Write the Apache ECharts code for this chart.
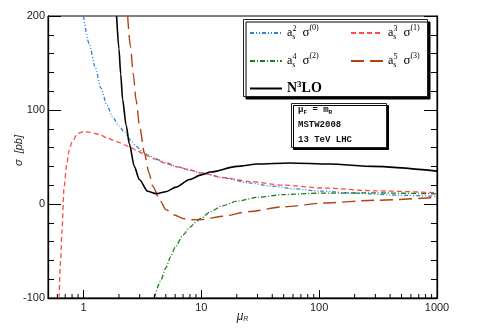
<!DOCTYPE html>
<html>
<head>
<meta charset="utf-8">
<script src="https://cdn.jsdelivr.net/npm/echarts@6/dist/echarts.min.js"></script>
<style>
  html, body { margin: 0; padding: 0; background: #fff; }
  #chart { width: 491px; height: 331px; }
</style>
</head>
<body>
<div id="chart"></div>
<script>
// ---- data ----
const xTickLabels = [1, 10, 100, 1000];
const xMinorTicks = [0.6, 0.7, 0.8, 0.9, 2, 3, 4, 5, 6, 7, 8, 9, 20, 30, 40, 50, 60, 70, 80, 90,
                     200, 300, 400, 500, 600, 700, 800, 900];
const yTickValues = [-100, 0, 100, 200];

// a_s^2 sigma^(0)
const muLO    = [1.0, 1.12, 1.26, 1.41, 1.58, 1.78, 2.0, 2.24, 2.51, 2.82, 3.16, 3.55, 3.98, 4.47, 5.01, 6.31, 7.94, 10, 15.8, 25.1, 39.8, 63, 100, 200, 500, 1000];
const sigmaLO = [200, 170, 145, 123, 105, 92, 83, 76, 68, 61, 56, 52, 49, 46.5, 44, 39.5, 36, 33, 27.5, 22.5, 19, 16, 13.8, 11.5, 9.3, 8.1];

// a_s^3 sigma^(1)
const muNLO    = [0.62, 0.64, 0.655, 0.685, 0.72, 0.755, 0.8, 0.89, 1.0, 1.12, 1.26, 1.41, 1.58, 1.78, 2.0, 2.24, 2.51, 2.82, 3.16, 3.55, 3.98, 5.01, 6.31, 7.94, 10, 15.8, 25.1, 50, 108, 300, 1000];
const sigmaNLO = [-100, -60, -31, 18, 42, 57, 66, 75, 77, 76.5, 75, 73, 70.5, 68, 65.5, 63, 60, 57, 54, 51, 48, 43, 39.5, 36.5, 33, 28, 24, 20, 17, 14, 12];

// a_s^4 sigma^(2)
const muNNLO    = [4.0, 4.5, 5.0, 5.5, 6.0, 7.0, 8.0, 9.0, 10, 12, 15, 20, 30, 50, 100, 300, 1000];
const sigmaNNLO = [-100, -82, -68, -56, -46, -33, -25, -19, -15, -8, -2, 3, 7, 10, 11.5, 11.8, 10.8];

// a_s^5 sigma^(3)
const muN3c    = [2.37, 2.5, 2.65, 2.79, 3.0, 3.29, 3.6, 3.87, 4.5, 5.0, 6.0, 7.0, 8.0, 10.3, 15, 25.7, 50, 108, 300, 1000];
const sigmaN3c = [200, 168, 138, 111, 82, 54, 33, 19, 3, -6, -12, -15.5, -16.7, -16.5, -13, -8, -3, 1, 4, 7];

// N3LO
const muN3LO    = [1.91, 2.0, 2.07, 2.15, 2.3, 2.45, 2.7, 2.98, 3.5, 4.13, 5.0, 6.1, 7.94, 10, 12, 20, 30, 56, 123, 289, 1000];
const sigmaN3LO = [200, 165, 138, 111, 84, 64, 40, 26, 13.5, 11, 13, 18, 26, 31, 34, 40, 42.5, 43.6, 42.5, 40, 35];

function pairs(xs, ys) { return xs.map((x, i) => [x, ys[i]]); }

const chart = echarts.init(document.getElementById('chart'), null, { renderer: 'canvas' });

const TICK = '#000';

const supStyle = { fontFamily: 'Liberation Serif', fontSize: 8, lineHeight: 8, padding: [0, 0, 9, 0], color: '#000' };
const subStyle = { fontFamily: 'Liberation Serif', fontSize: 8, lineHeight: 8, padding: [7, 0, 0, 0], color: '#000', width: 0.1 };
const legendRich = {
  a: { fontFamily: 'Liberation Serif', fontSize: 12, color: '#000' },
  g: { fontFamily: 'Liberation Serif', fontSize: 13, color: '#000', padding: [0, 0, 0, 6] },
  sb: subStyle,
  sp: supStyle,
  sp2: { fontFamily: 'Liberation Serif', fontSize: 8, lineHeight: 8, padding: [0, 0, 10, 0], color: '#000' },
  b: { fontFamily: 'Liberation Serif', fontSize: 14, fontWeight: 'bold', color: '#000' },
  bs: { fontFamily: 'Liberation Serif', fontSize: 9, fontWeight: 'bold', lineHeight: 9, padding: [0, 0, 8, 0], color: '#000' }
};
const legendText = {
  LO:   '{a|a}{sb|s}{sp|2}{g|σ}{sp2|(0)}',
  NLO:  '{a|a}{sb|s}{sp|3}{g|σ}{sp2|(1)}',
  NNLO: '{a|a}{sb|s}{sp|4}{g|σ}{sp2|(2)}',
  N3c:  '{a|a}{sb|s}{sp|5}{g|σ}{sp2|(3)}',
  N3LO: '{b|N}{bs|3}{b|LO}'
};

function lineSeries(name, data, color, type, width) {
  return {
    name: name, type: 'line', data: data, showSymbol: false, symbol: 'none',
    smooth: 0.25, smoothMonotone: 'x', clip: true, z: 3,
    lineStyle: { color: color, width: width, type: type },
    itemStyle: { color: color },
    emphasis: { disabled: true }
  };
}

const legendCommon = {
  orient: 'vertical', itemWidth: 32, itemHeight: 14, itemGap: 10, padding: 0,
  selectedMode: false, z: 10,
  itemStyle: { opacity: 0, borderWidth: 0 },
  lineStyle: { opacity: 1 },
  textStyle: { rich: legendRich, lineHeight: 16 },
  formatter: n => legendText[n]
};

function yAxisDef(pos) {
  return {
    type: 'value', min: -100, max: 200, interval: 100, position: pos,
    axisLine: { show: true, onZero: false, lineStyle: { color: '#000', width: 1.3 } },
    axisTick: { show: true, inside: true, length: 13, lineStyle: { color: TICK, width: 1 } },
    minorTick: { show: true, splitNumber: 5, length: 6, lineStyle: { color: TICK, width: 1 } },
    splitLine: { show: false },
    minorSplitLine: { show: false }
  };
}

const yLeft = Object.assign(yAxisDef('left'), {
  name: 'σ  [pb]', nameLocation: 'middle', nameGap: 24, nameMoveOverlap: false,
  nameTextStyle: { fontFamily: 'Liberation Sans', fontStyle: 'italic', fontSize: 11, color: '#222', padding: [0, 0, 0, 13] },
  axisLabel: {
    margin: 3, fontFamily: 'Liberation Sans', fontSize: 11, color: '#222',
    formatter: v => yTickValues.includes(v) ? String(v) : ''
  }
});
const yRight = Object.assign(yAxisDef('right'), { axisLabel: { show: false } });

const option = {
  animation: false,
  backgroundColor: '#fff',
  grid: { left: 48, right: 54, top: 16, bottom: 33, outerBoundsMode: 'none',
          show: true, borderColor: '#000', borderWidth: 1 },
  xAxis: {
    type: 'log', logBase: 10, min: 0.5, max: 1000,
    name: '{m|μ}{r|R}', nameLocation: 'middle', nameGap: 12, nameMoveOverlap: false,
    nameTextStyle: { rich: {
      m: { fontFamily: 'Liberation Sans', fontStyle: 'italic', fontSize: 12, color: '#222' },
      r: { fontFamily: 'Liberation Sans', fontStyle: 'italic', fontSize: 7, color: '#222', padding: [6, 0, 0, 0] }
    } },
    axisLine: { show: true, onZero: false, lineStyle: { color: '#000', width: 1.3 } },
    axisTick: { show: true, inside: true, length: 8, lineStyle: { color: TICK, width: 1 } },
    splitLine: { show: false },
    axisLabel: {
      margin: 4, fontFamily: 'Liberation Sans', fontSize: 11, color: '#222',
      formatter: v => {
        const hit = xTickLabels.find(t => Math.abs(Math.log10(v) - Math.log10(t)) < 1e-6);
        return hit === undefined ? '' : String(hit);
      }
    }
  },
  yAxis: [yLeft, yRight],
  legend: [
    Object.assign({}, legendCommon, { left: 249, top: 24, data: ['LO', 'NNLO', 'N3LO'] }),
    Object.assign({}, legendCommon, { left: 350, top: 24, data: ['NLO', 'N3c'] })
  ],
  graphic: [
    { type: 'rect', z: 1, shape: { x: 243.5, y: 19.5, width: 184, height: 77 },
      style: { fill: '#fff', stroke: '#222', lineWidth: 1, shadowBlur: 0, shadowOffsetX: 2.5, shadowOffsetY: 2.5, shadowColor: '#000' } },
    { type: 'rect', z: 1, shape: { x: 291.5, y: 103.5, width: 95, height: 44 },
      style: { fill: '#fff', stroke: '#222', lineWidth: 1, shadowBlur: 0, shadowOffsetX: 2, shadowOffsetY: 2, shadowColor: '#000' } },
    { type: 'text', z: 2, x: 298, y: 104,
      style: { text: 'μ{s|F} = m{s|R}', font: 'bold 9px "Liberation Mono"', fill: '#111',
               rich: { s: { font: 'bold 6px "Liberation Mono"', fill: '#111', padding: [5, 0, 0, 0] } } } },
    { type: 'text', z: 2, x: 298, y: 120, style: { text: 'MSTW2008', font: 'bold 9px "Liberation Mono"', fill: '#111' } },
    { type: 'text', z: 2, x: 298, y: 135, style: { text: '13 TeV LHC', font: 'bold 9px "Liberation Mono"', fill: '#111' } }
  ],
  series: [
    lineSeries('LO', pairs(muLO, sigmaLO), '#2b84dc', [4, 2, 1, 2, 1, 2], 1.3),
    lineSeries('NLO', pairs(muNLO, sigmaNLO), '#ff4a4a', [5, 3], 1.3),
    lineSeries('NNLO', pairs(muNNLO, sigmaNNLO), '#1f7f1f', [5, 2, 1, 2], 1.3),
    lineSeries('N3c', pairs(muN3c, sigmaN3c), '#b0440f', [13, 6], 1.4),
    lineSeries('N3LO', pairs(muN3LO, sigmaN3LO), '#000000', 'solid', 1.6),
    {
      name: 'xminor', type: 'custom', silent: true, clip: false, z: 4,
      data: xMinorTicks.map(v => [v, -100]),
      renderItem: (params, api) => {
        const p = api.coord([api.value(0), api.value(1)]);
        return { type: 'line', shape: { x1: p[0], y1: p[1], x2: p[0], y2: p[1] - 4 },
                 style: { stroke: TICK, lineWidth: 1 } };
      }
    }
  ]
};
chart.setOption(option);
</script>
</body>
</html>
